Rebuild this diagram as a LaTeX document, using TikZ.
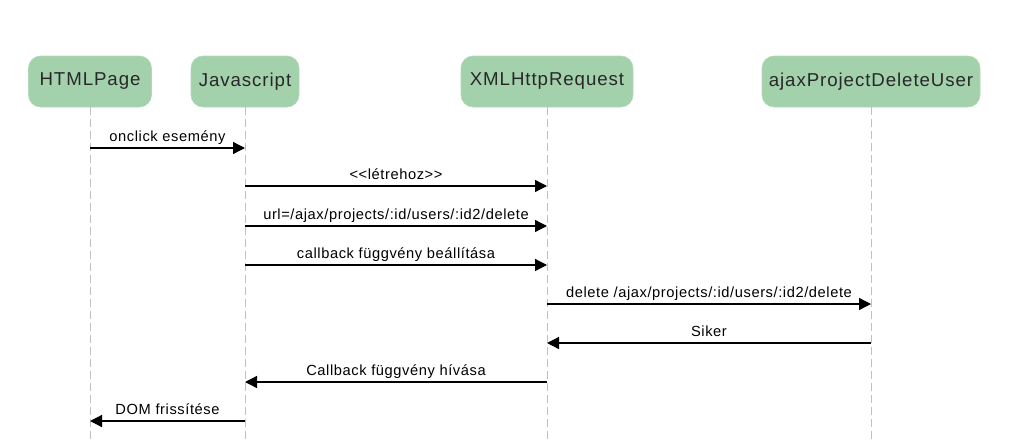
\documentclass[tikz,border=0pt]{standalone}
\usepackage{fontspec}
\setmainfont{Liberation Sans}
\newfontfamily\actorfont[LetterSpace=5]{Liberation Sans}
\newfontfamily\msgfont[LetterSpace=4]{Liberation Sans}
\usetikzlibrary{arrows.meta,calc}
\definecolor{BoxClr}{RGB}{163,209,172}
\definecolor{LifeClr}{RGB}{192,192,192}
\definecolor{TxtClr}{RGB}{40,40,40}

\begin{document}
\begin{tikzpicture}[x=0.75pt,y=-0.75pt,
  actor/.style={fill=BoxClr,draw=BoxClr!85!white,rounded corners=9pt,minimum height=38.25pt,inner sep=0pt,text=TxtClr,font=\actorfont\fontsize{14}{16}\selectfont},
  lifeline/.style={draw=LifeClr,line width=0.75pt,dash pattern=on 6pt off 3pt},
  msg/.style={line width=1pt,-{Triangle[length=9pt,width=9pt]}},
  lbl/.style={above,inner sep=2pt,text depth=0.22em,font=\msgfont\fontsize{11}{13}\selectfont}]
\useasboundingbox (0,0) rectangle (1013,439);

\node[actor,minimum width=92.25pt] (html) at (90,81.5) {HTMLPage};
\node[actor,minimum width=81pt] (js) at (245,81.5) {Javascript};
\node[actor,minimum width=129pt] (xhr) at (547,81.5) {XMLHttpRequest};
\node[actor,minimum width=163.5pt] (ajax) at (871,81.5) {ajaxProjectDeleteUser};

\coordinate (bot) at (0,439);
\foreach \p in {html,js,xhr,ajax}
  \draw[lifeline] (\p.south) -- (\p |- bot);

\coordinate (m1) at (0,148);
\coordinate (m2) at (0,186);
\coordinate (m3) at (0,226);
\coordinate (m4) at (0,265);
\coordinate (m5) at (0,304);
\coordinate (m6) at (0,343);
\coordinate (m7) at (0,382);
\coordinate (m8) at (0,421);

\draw[msg] (html |- m1) -- node[lbl] {onclick esemény} (js |- m1);
\draw[msg] (js |- m2) -- node[lbl] {<{}<létrehoz>{}>} (xhr |- m2);
\draw[msg] (js |- m3) -- node[lbl] {url=/ajax/projects/:id/users/:id2/delete} (xhr |- m3);
\draw[msg] (js |- m4) -- node[lbl] {callback függvény beállítása} (xhr |- m4);
\draw[msg] (xhr |- m5) -- node[lbl] {delete /ajax/projects/:id/users/:id2/delete} (ajax |- m5);
\draw[msg] (ajax |- m6) -- node[lbl] {Siker} (xhr |- m6);
\draw[msg] (xhr |- m7) -- node[lbl] {Callback függvény hívása} (js |- m7);
\draw[msg] (js |- m8) -- node[lbl] {DOM frissítése} (html |- m8);

\end{tikzpicture}
\end{document}
